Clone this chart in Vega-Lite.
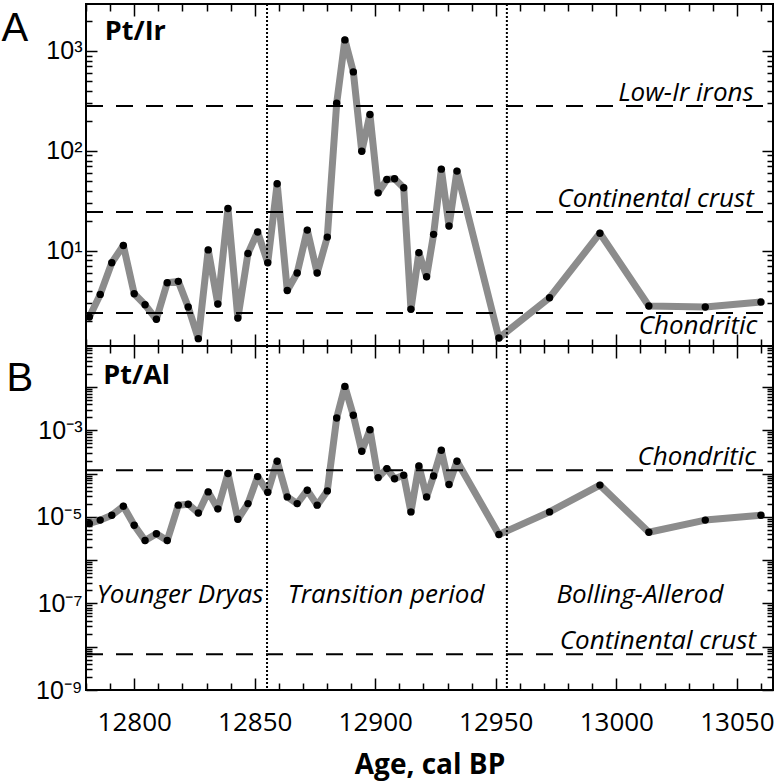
{
  "$schema": "https://vega.github.io/schema/vega-lite/v6.json",
  "padding": {"left": 0, "top": 2, "right": 5, "bottom": 3},
  "background": "white",
  "bounds": "flush",
  "spacing": 0,
  "config": {
    "view": {"stroke": "black", "strokeWidth": 2},
    "axis": {"domain": false, "grid": false, "zindex": 1, "labelColor": "black", "titleColor": "black", "labelOverlap": false, "labelFlush": false},
    "text": {"font": "Open Sans", "color": "black"}
  },
  "datasets": {
    "samples": [
      {"age": 12781.4, "ptir": 2.17, "ptal": 7.0e-6},
      {"age": 12785.9, "ptir": 3.66, "ptal": 8.4e-6},
      {"age": 12790.7, "ptir": 7.6, "ptal": 1.09e-5},
      {"age": 12795.5, "ptir": 11.3, "ptal": 1.76e-5},
      {"age": 12800.0, "ptir": 3.72, "ptal": 6.4e-6},
      {"age": 12804.5, "ptir": 2.88, "ptal": 2.83e-6},
      {"age": 12809.2, "ptir": 2.06, "ptal": 4.05e-6},
      {"age": 12813.7, "ptir": 4.79, "ptal": 2.83e-6},
      {"age": 12818.3, "ptir": 4.94, "ptal": 1.86e-5},
      {"age": 12822.4, "ptir": 2.74, "ptal": 1.96e-5},
      {"age": 12826.6, "ptir": 1.32, "ptal": 1.23e-5},
      {"age": 12830.7, "ptir": 10.2, "ptal": 3.77e-5},
      {"age": 12834.7, "ptir": 2.93, "ptal": 1.53e-5},
      {"age": 12838.9, "ptir": 26.5, "ptal": 1.0e-4},
      {"age": 12843.0, "ptir": 2.12, "ptal": 8.8e-6},
      {"age": 12847.2, "ptir": 9.4, "ptal": 2.02e-5},
      {"age": 12851.2, "ptir": 15.4, "ptal": 8.5e-5},
      {"age": 12855.4, "ptir": 7.6, "ptal": 3.7e-5},
      {"age": 12859.3, "ptir": 46.8, "ptal": 1.93e-4},
      {"age": 12863.5, "ptir": 4.0, "ptal": 2.89e-5},
      {"age": 12867.6, "ptir": 6.0, "ptal": 2.02e-5},
      {"age": 12871.8, "ptir": 16.1, "ptal": 4.12e-5},
      {"age": 12875.9, "ptir": 6.0, "ptal": 1.86e-5},
      {"age": 12880.1, "ptir": 13.7, "ptal": 3.97e-5},
      {"age": 12884.0, "ptir": 300, "ptal": 1.92e-3},
      {"age": 12887.4, "ptir": 1290, "ptal": 1.03e-2},
      {"age": 12890.9, "ptir": 617, "ptal": 2.22e-3},
      {"age": 12894.4, "ptir": 99, "ptal": 3.28e-4},
      {"age": 12897.8, "ptir": 231, "ptal": 1.03e-3},
      {"age": 12901.2, "ptir": 38, "ptal": 8.05e-5},
      {"age": 12904.8, "ptir": 51.7, "ptal": 1.3e-4},
      {"age": 12908.0, "ptir": 52.5, "ptal": 7.6e-5},
      {"age": 12911.8, "ptir": 42.7, "ptal": 9.1e-5},
      {"age": 12914.8, "ptir": 2.6, "ptal": 1.3e-5},
      {"age": 12918.1, "ptir": 9.55, "ptal": 1.5e-4},
      {"age": 12921.3, "ptir": 5.5, "ptal": 2.89e-5},
      {"age": 12924.2, "ptir": 14.6, "ptal": 8.8e-5},
      {"age": 12927.4, "ptir": 65.6, "ptal": 3.45e-4},
      {"age": 12930.6, "ptir": 17.7, "ptal": 5.6e-5},
      {"age": 12933.9, "ptir": 62.7, "ptal": 1.93e-4},
      {"age": 12951.3, "ptir": 1.34, "ptal": 3.9e-6},
      {"age": 12972.3, "ptir": 3.39, "ptal": 1.3e-5},
      {"age": 12993.2, "ptir": 15.0, "ptal": 5.4e-5},
      {"age": 13013.5, "ptir": 2.8, "ptal": 4.4e-6},
      {"age": 13036.9, "ptir": 2.74, "ptal": 8.4e-6},
      {"age": 13060.0, "ptir": 3.07, "ptal": 1.09e-5}
    ],
    "refA": [
      {"ref": 282, "name": "Low-Ir irons", "side": "above"},
      {"ref": 24.5, "name": "Continental crust", "side": "above"},
      {"ref": 2.38, "name": "Chondritic", "side": "below"}
    ],
    "refB": [
      {"ref": 1.19e-4, "name": "Chondritic"},
      {"ref": 6.67e-9, "name": "Continental crust"}
    ],
    "periodEdges": [{"b": 12855.1}, {"b": 12954.6}],
    "periods": [
      {"period": "Younger Dryas", "mid": 12819},
      {"period": "Transition period", "mid": 12904.5},
      {"period": "Bolling-Allerod", "mid": 13009.8}
    ]
  },
  "vconcat": [
    {
      "width": 687,
      "height": 342,
      "layer": [
        {
          "data": {"name": "samples"},
          "mark": {"type": "line", "color": "#8c8c8c", "strokeWidth": 7, "strokeJoin": "round"},
          "encoding": {
            "x": {"field": "age", "type": "quantitative",
              "scale": {"domain": [12780, 13065], "nice": false, "zero": false},
              "axis": {"orient": "bottom", "title": null, "labels": false, "offset": -12, "tickSize": 12, "ticks": true, "tickColor": "#000000", "tickWidth": 1.5,
                "values": [12800, 12850, 12900, 12950, 13000, 13050]}},
            "y": {"field": "ptir", "type": "quantitative",
              "scale": {"type": "log", "domain": [1.114, 2951], "nice": false},
              "axis": {"orient": "left", "offset": -11, "tickSize": 11, "ticks": true, "tickColor": "#000000", "tickWidth": 1.5,
                "values": [10, 100, 1000],
                "labelExpr": "datum.value === 10 ? '10¹' : datum.value === 100 ? '10²' : '10³'",
                "labelFont": "Liberation Sans", "labelFontSize": 25, "labelPadding": 4,
                "title": "A", "titleAngle": 0, "titleX": -96, "titleY": 36, "titleAlign": "left", "titleBaseline": "alphabetic",
                "titleFont": "Liberation Sans", "titleFontSize": 40, "titleFontWeight": "normal"}}
          }
        },
        {
          "data": {"name": "samples"},
          "mark": {"type": "point", "filled": true, "color": "black", "size": 55, "opacity": 1},
          "encoding": {
            "x": {"field": "age", "type": "quantitative",
              "axis": {"orient": "top", "title": null, "labels": false, "offset": -12, "tickSize": 12, "ticks": true, "tickColor": "#000000", "tickWidth": 1.5,
                "values": [12800, 12850, 12900, 12950, 13000, 13050]}},
            "y": {"field": "ptir", "type": "quantitative",
              "axis": {"orient": "right", "title": null, "labels": false, "offset": -11, "tickSize": 11, "ticks": true, "tickColor": "#000000", "tickWidth": 1.5,
                "values": [10, 100, 1000]}}
          }
        },
        {
          "data": {"name": "refA"},
          "mark": {"type": "rule", "color": "black", "strokeWidth": 2, "strokeDash": [17, 13], "strokeDashOffset": 20},
          "encoding": {"y": {"field": "ref", "type": "quantitative",
            "axis": {"orient": "left", "title": null, "labels": false, "offset": -6, "tickSize": 6, "ticks": true, "tickColor": "#000000", "tickWidth": 1.5,
              "values": [2,3,4,5,6,7,8,9,20,30,40,50,60,70,80,90,200,300,400,500,600,700,800,900,2000]}}}
        },
        {
          "data": {"name": "periodEdges"},
          "mark": {"type": "rule", "color": "black", "strokeWidth": 2, "strokeDash": [2, 2]},
          "encoding": {"x": {"field": "b", "type": "quantitative",
            "axis": {"orient": "bottom", "title": null, "labels": false, "offset": -7, "tickSize": 7, "ticks": true, "tickColor": "#000000", "tickWidth": 1.5,
              "values": [12780,12790,12810,12820,12830,12840,12860,12870,12880,12890,12910,12920,12930,12940,12960,12970,12980,12990,13010,13020,13030,13040,13060]}}}
        },
        {
          "data": {"name": "refA"},
          "transform": [{"filter": "datum.side === 'above'"}],
          "mark": {"type": "text", "align": "right", "baseline": "alphabetic", "dy": -5, "fontSize": 26, "fontStyle": "italic"},
          "encoding": {
            "x": {"datum": 13057, "type": "quantitative",
              "axis": {"orient": "top", "title": null, "labels": false, "offset": -7, "tickSize": 7, "ticks": true, "tickColor": "#000000", "tickWidth": 1.5,
                "values": [12780,12790,12810,12820,12830,12840,12860,12870,12880,12890,12910,12920,12930,12940,12960,12970,12980,12990,13010,13020,13030,13040,13060]}},
            "y": {"field": "ref", "type": "quantitative",
              "axis": {"orient": "right", "title": null, "labels": false, "offset": -6, "tickSize": 6, "ticks": true, "tickColor": "#000000", "tickWidth": 1.5,
                "values": [2,3,4,5,6,7,8,9,20,30,40,50,60,70,80,90,200,300,400,500,600,700,800,900,2000]}},
            "text": {"field": "name"}
          }
        },
        {
          "data": {"name": "refA"},
          "transform": [{"filter": "datum.side === 'below'"}],
          "mark": {"type": "text", "align": "right", "baseline": "alphabetic", "dy": 21, "fontSize": 26, "fontStyle": "italic"},
          "encoding": {
            "x": {"datum": 13058.5, "type": "quantitative", "axis": null},
            "y": {"field": "ref", "type": "quantitative", "axis": null},
            "text": {"field": "name"}
          }
        },
        {
          "data": {"values": [{"label": "Pt/Ir"}]},
          "mark": {"type": "text", "align": "left", "baseline": "alphabetic", "fontSize": 27, "fontWeight": "bold"},
          "encoding": {
            "x": {"datum": 12787.8, "type": "quantitative", "axis": null},
            "y": {"datum": 1280, "type": "quantitative", "axis": null},
            "text": {"field": "label"}
          }
        }
      ],
      "resolve": {"axis": {"x": "independent", "y": "independent"}}
    },
    {
      "width": 687,
      "height": 344,
      "layer": [
        {
          "data": {"name": "samples"},
          "mark": {"type": "line", "color": "#8c8c8c", "strokeWidth": 7, "strokeJoin": "round"},
          "encoding": {
            "x": {"field": "age", "type": "quantitative",
              "scale": {"domain": [12780, 13065], "nice": false, "zero": false},
              "axis": {"orient": "bottom", "title": "Age, cal BP", "offset": -12, "tickSize": 12, "ticks": true, "tickColor": "#000000", "tickWidth": 1.5,
                "values": [12800, 12850, 12900, 12950, 13000, 13050],
                "format": "d",
                "labelFont": "Open Sans", "labelFontSize": 26, "labelPadding": 19,
                "titleFont": "Open Sans", "titleFontSize": 28, "titleFontWeight": "bold", "titlePadding": 16}},
            "y": {"field": "ptal", "type": "quantitative",
              "scale": {"type": "log", "domain": [1e-9, 0.0883], "nice": false},
              "axis": {"orient": "left", "offset": -11, "tickSize": 11, "ticks": true, "tickColor": "#000000", "tickWidth": 1.5,
                "values": [1e-9, 1e-8, 1e-7, 1e-6, 1e-5, 1e-4, 1e-3, 1e-2],
                "labelExpr": "datum.value === 0.001 ? '10⁻³' : datum.value === 0.00001 ? '10⁻⁵' : datum.value === 0.0000001 ? '10⁻⁷' : datum.value === 0.000000001 ? '10⁻⁹' : ''",
                "labelFont": "Liberation Sans", "labelFontSize": 25, "labelPadding": 4,
                "title": "B", "titleAngle": 0, "titleX": -91, "titleY": 44, "titleAlign": "left", "titleBaseline": "alphabetic",
                "titleFont": "Liberation Sans", "titleFontSize": 40, "titleFontWeight": "normal"}}
          }
        },
        {
          "data": {"name": "samples"},
          "mark": {"type": "point", "filled": true, "color": "black", "size": 55, "opacity": 1},
          "encoding": {
            "x": {"field": "age", "type": "quantitative",
              "axis": {"orient": "top", "title": null, "labels": false, "offset": -12, "tickSize": 12, "ticks": true, "tickColor": "#000000", "tickWidth": 1.5,
                "values": [12800, 12850, 12900, 12950, 13000, 13050]}},
            "y": {"field": "ptal", "type": "quantitative",
              "axis": {"orient": "right", "title": null, "labels": false, "offset": -11, "tickSize": 11, "ticks": true, "tickColor": "#000000", "tickWidth": 1.5,
                "values": [1e-9, 1e-8, 1e-7, 1e-6, 1e-5, 1e-4, 1e-3, 1e-2]}}
          }
        },
        {
          "data": {"name": "refB"},
          "mark": {"type": "rule", "color": "black", "strokeWidth": 2, "strokeDash": [17, 13], "strokeDashOffset": 20},
          "encoding": {"y": {"field": "ref", "type": "quantitative",
            "axis": {"orient": "left", "title": null, "labels": false, "offset": -6, "tickSize": 6, "ticks": true, "tickColor": "#000000", "tickWidth": 1.5,
              "values": [2e-9,3e-9,4e-9,5e-9,6e-9,7e-9,8e-9,9e-9,2e-8,3e-8,4e-8,5e-8,6e-8,7e-8,8e-8,9e-8,2e-7,3e-7,4e-7,5e-7,6e-7,7e-7,8e-7,9e-7,2e-6,3e-6,4e-6,5e-6,6e-6,7e-6,8e-6,9e-6,2e-5,3e-5,4e-5,5e-5,6e-5,7e-5,8e-5,9e-5,2e-4,3e-4,4e-4,5e-4,6e-4,7e-4,8e-4,9e-4,2e-3,3e-3,4e-3,5e-3,6e-3,7e-3,8e-3,9e-3,2e-2,3e-2,4e-2,5e-2,6e-2,7e-2,8e-2]}}}
        },
        {
          "data": {"name": "periodEdges"},
          "mark": {"type": "rule", "color": "black", "strokeWidth": 2, "strokeDash": [2, 2]},
          "encoding": {"x": {"field": "b", "type": "quantitative",
            "axis": {"orient": "bottom", "title": null, "labels": false, "offset": -7, "tickSize": 7, "ticks": true, "tickColor": "#000000", "tickWidth": 1.5,
              "values": [12780,12790,12810,12820,12830,12840,12860,12870,12880,12890,12910,12920,12930,12940,12960,12970,12980,12990,13010,13020,13030,13040,13060]}}}
        },
        {
          "data": {"name": "refB"},
          "mark": {"type": "text", "align": "right", "baseline": "alphabetic", "dy": -5, "fontSize": 26, "fontStyle": "italic"},
          "encoding": {
            "x": {"datum": 13058, "type": "quantitative",
              "axis": {"orient": "top", "title": null, "labels": false, "offset": -7, "tickSize": 7, "ticks": true, "tickColor": "#000000", "tickWidth": 1.5,
                "values": [12780,12790,12810,12820,12830,12840,12860,12870,12880,12890,12910,12920,12930,12940,12960,12970,12980,12990,13010,13020,13030,13040,13060]}},
            "y": {"field": "ref", "type": "quantitative",
              "axis": {"orient": "right", "title": null, "labels": false, "offset": -6, "tickSize": 6, "ticks": true, "tickColor": "#000000", "tickWidth": 1.5,
                "values": [2e-9,3e-9,4e-9,5e-9,6e-9,7e-9,8e-9,9e-9,2e-8,3e-8,4e-8,5e-8,6e-8,7e-8,8e-8,9e-8,2e-7,3e-7,4e-7,5e-7,6e-7,7e-7,8e-7,9e-7,2e-6,3e-6,4e-6,5e-6,6e-6,7e-6,8e-6,9e-6,2e-5,3e-5,4e-5,5e-5,6e-5,7e-5,8e-5,9e-5,2e-4,3e-4,4e-4,5e-4,6e-4,7e-4,8e-4,9e-4,2e-3,3e-3,4e-3,5e-3,6e-3,7e-3,8e-3,9e-3,2e-2,3e-2,4e-2,5e-2,6e-2,7e-2,8e-2]}},
            "text": {"field": "name"}
          }
        },
        {
          "data": {"name": "periods"},
          "mark": {"type": "text", "align": "center", "baseline": "alphabetic", "fontSize": 26, "fontStyle": "italic"},
          "encoding": {
            "x": {"field": "mid", "type": "quantitative", "axis": null},
            "y": {"datum": 1.04e-7, "type": "quantitative", "axis": null},
            "text": {"field": "period"}
          }
        },
        {
          "data": {"values": [{"label": "Pt/Al"}]},
          "mark": {"type": "text", "align": "left", "baseline": "alphabetic", "fontSize": 27, "fontWeight": "bold"},
          "encoding": {
            "x": {"datum": 12787.2, "type": "quantitative", "axis": null},
            "y": {"datum": 0.0115, "type": "quantitative", "axis": null},
            "text": {"field": "label"}
          }
        }
      ],
      "resolve": {"axis": {"x": "independent", "y": "independent"}}
    }
  ]
}
